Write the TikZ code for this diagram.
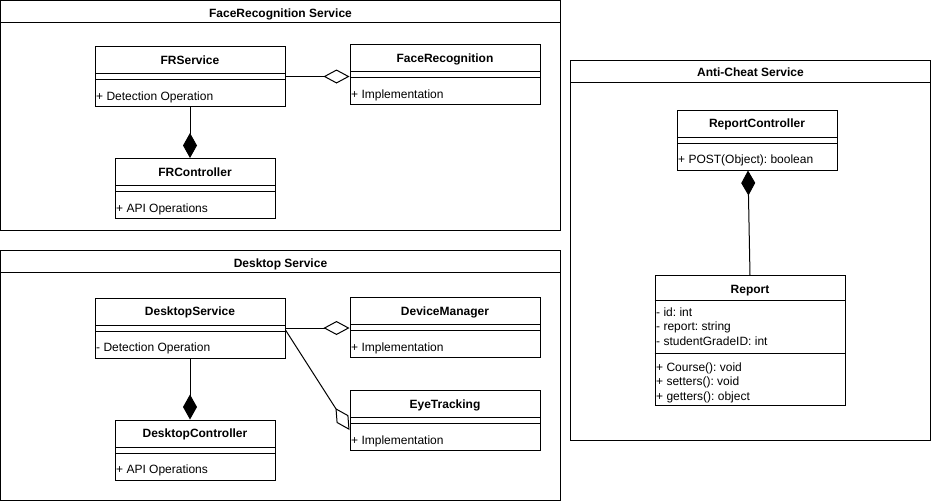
\documentclass[tikz,border=0pt]{standalone}
\usepackage{fontspec}
\setmainfont{Liberation Sans}
\usetikzlibrary{arrows.meta,calc}
\frenchspacing

\tikzset{
	pkgbox/.style={draw, line width=1pt, inner sep=0pt},
	plainbox/.style={draw, line width=1pt, inner sep=0pt, fill=white},
	classbox/.style={plainbox,
		path picture={\draw[line width=1pt]
			($(path picture bounding box.north west)+(0,27)$) -- ++(300,0)
			($(path picture bounding box.north west)+(0,33)$) -- ++(300,0);}},
	ctitle/.style={font=\fontsize{12}{14}\selectfont\bfseries, anchor=base, inner sep=0pt},
	member/.style={font=\fontsize{12}{14}\selectfont\frenchspacing, anchor=base west, inner sep=0pt},
	comp/.style={line width=1pt, -{Diamond[length=25pt,width=14pt]}},
	aggr/.style={line width=1pt, -{Diamond[fill=white,length=26pt,width=14pt]}}
}

\begin{document}
\begin{tikzpicture}[x=1pt, y=-1pt]
			\useasboundingbox (0,0) rectangle (932,501);
			% packages
			\node[pkgbox, minimum width=560, minimum height=230] (frpkg) at (280.5,115.5) {};
			\node[ctitle] (frpkg-name) at ($(frpkg.north)+(0,17)$) {FaceRecognition Service};
			\draw[line width=1pt] ($(frpkg.north west)+(0,22.5)$) -- ($(frpkg.north east)+(0,22.5)$);
			
			\node[pkgbox, minimum width=560, minimum height=250] (deskpkg) at (280.5,375.5) {};
			\node[ctitle] (deskpkg-name) at ($(deskpkg.north)+(0,17)$) {Desktop Service};
			\draw[line width=1pt] ($(deskpkg.north west)+(0,22.5)$) -- ($(deskpkg.north east)+(0,22.5)$);
			
			\node[pkgbox, minimum width=360, minimum height=380] (acpkg) at (750.5,250.5) {};
			\node[ctitle] (acpkg-name) at ($(acpkg.north)+(0,16.5)$) {Anti-Cheat Service};
			\draw[line width=1pt] ($(acpkg.north west)+(0,22.5)$) -- ($(acpkg.north east)+(0,22.5)$);
			
			% FaceRecognition Service
			\node[classbox, minimum width=190, minimum height=60] (frs) at (190,76.5) {};
			\node[ctitle] (frs-name) at ($(frs.north)+(0,18.4)$) {FRService};
			\node[member] (frs-op) at ($(frs.north west)+(1.5,54.2)$) {+ Detection Operation};
			
			\node[classbox, minimum width=190, minimum height=60] (fr) at (445,74.5) {};
			\node[ctitle] (fr-name) at ($(fr.north)+(0,18.4)$) {FaceRecognition};
			\node[member] (fr-op) at ($(fr.north west)+(1.5,54.2)$) {+ Implementation};
			
			\node[classbox, minimum width=160, minimum height=60] (frc) at (195,188.5) {};
			\node[ctitle] (frc-name) at ($(frc.north)+(0,18.4)$) {FRController};
			\node[member] (frc-op) at ($(frc.north west)+(1.5,54.2)$) {+ API Operations};
			
			% Desktop Service
			\node[classbox, minimum width=190, minimum height=60] (ds) at (190,328) {};
			\node[ctitle] (ds-name) at ($(ds.north)+(0,18.4)$) {DesktopService};
			\node[member] (ds-op) at ($(ds.north west)+(1.5,54.2)$) {- Detection Operation};
			
			\node[classbox, minimum width=190, minimum height=60] (dm) at (445,327.5) {};
			\node[ctitle] (dm-name) at ($(dm.north)+(0,18.4)$) {DeviceManager};
			\node[member] (dm-op) at ($(dm.north west)+(1.5,54.2)$) {+ Implementation};
			
			\node[classbox, minimum width=190, minimum height=60] (et) at (445,420.5) {};
			\node[ctitle] (et-name) at ($(et.north)+(0,18.4)$) {EyeTracking};
			\node[member] (et-op) at ($(et.north west)+(1.5,54.2)$) {+ Implementation};
			
			\node[classbox, minimum width=160, minimum height=60] (dc) at (195,450) {};
			\node[ctitle] (dc-name) at ($(dc.north)+(0,18.4)$) {DesktopController};
			\node[member] (dc-op) at ($(dc.north west)+(1.5,54.2)$) {+ API Operations};
			
			% Anti-Cheat Service
			\node[classbox, minimum width=160, minimum height=60] (rc) at (757,140) {};
			\node[ctitle] (rc-name) at ($(rc.north)+(0,18.4)$) {ReportController};
			\node[member] (rc-op) at ($(rc.north west)+(1.5,54.2)$) {+ POST(Object): boolean};
			
			\node[plainbox, minimum width=190, minimum height=129.5] (rep) at (750,340.5) {};
			\node[ctitle] (rep-name) at ($(rep.north)+(0,18.6)$) {Report};
			\draw[line width=1pt] ($(rep.north west)+(0,25.5)$) -- ($(rep.north east)+(0,25.5)$);
			\draw[line width=1pt] ($(rep.north west)+(0,78.5)$) -- ($(rep.north east)+(0,78.5)$);
			\foreach \m [count=\i] in {- id: int, - report: string, - studentGradeID: int}
				\node[member] (rep-att\i) at ($(rep.north west)+(1.5,26.2+14.7*\i)$) {\m};
			\foreach \m [count=\i] in {+ Course(): void, + setters(): void, + getters(): object}
				\node[member] (rep-op\i) at ($(rep.north west)+(1.5,81.2+14.7*\i)$) {\m};
			
			% connectors
			\draw[aggr] (frs.east) -- (frs.east -| fr.west);
			\draw[comp] (frs.south) -- (frs.south |- frc.north);
			\draw[aggr] (ds.east) -- (ds.east -| dm.west);
			\draw[aggr] ($(ds.east)+(0,2)$) -- ($(et.west)+(0,9.5)$);
			\draw[comp] (ds.south) -- (ds.south |- dc.north);
			\draw[comp] (rep.north) -- ($(rc.south)+(-9,0)$);
\end{tikzpicture}
\end{document}
